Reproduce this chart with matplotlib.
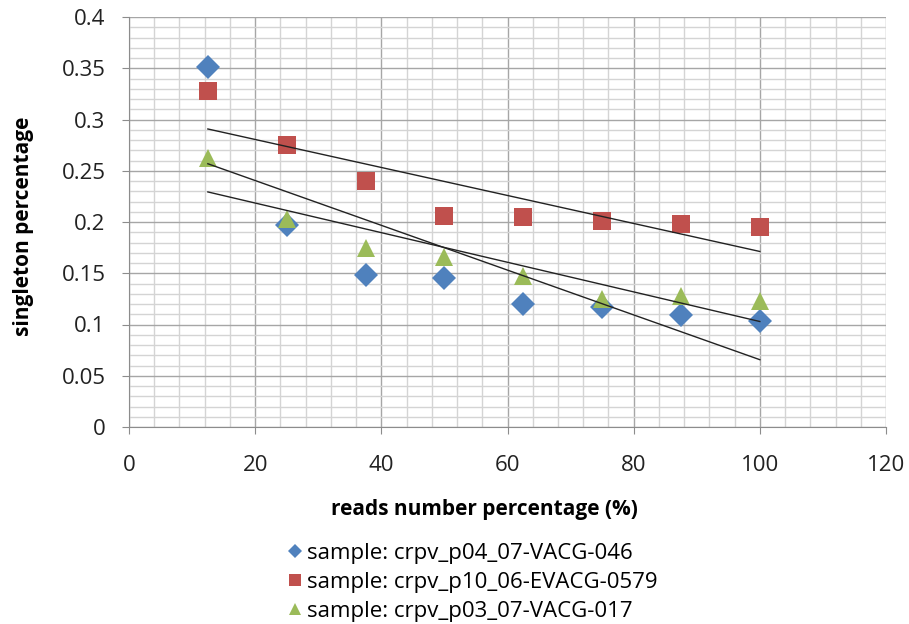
import numpy as np
import matplotlib.pyplot as plt
from matplotlib.ticker import MultipleLocator

plt.rcParams['font.family'] = ['Open Sans', 'DejaVu Sans']

reads_pct = [12.5, 25, 37.5, 50, 62.5, 75, 87.5, 100]
p04_vacg_046 = [0.351, 0.197, 0.148, 0.145, 0.120, 0.117, 0.109, 0.103]
p10_evacg_0579 = [0.328, 0.275, 0.240, 0.206, 0.205, 0.201, 0.198, 0.195]
p03_vacg_017 = [0.262, 0.203, 0.175, 0.166, 0.147, 0.125, 0.128, 0.123]

series = [
    ("sample: crpv_p04_07-VACG-046", p04_vacg_046, "D", "#4F81BD", 12),
    ("sample: crpv_p10_06-EVACG-0579", p10_evacg_0579, "s", "#C0504D", 13),
    ("sample: crpv_p03_07-VACG-017", p03_vacg_017, "^", "#9BBB59", 13),
]

fig = plt.figure(figsize=(9.09, 6.24), dpi=100)
ax = fig.add_axes([129 / 909, 1 - 427 / 624, (886 - 129) / 909, (427 - 17) / 624])

x = np.array(reads_pct)
for label, y, marker, color, ms in series:
    ax.plot(x, y, linestyle="none", marker=marker, color=color, markersize=ms,
            markeredgewidth=0, label=label, zorder=3)

# linear trend lines over the sampled range
for label, y, marker, color, ms in series:
    k, b = np.polyfit(x, y, 1)
    ax.plot([x.min(), x.max()], [k * x.min() + b, k * x.max() + b],
            color="#222222", linewidth=1.0, zorder=4)

ax.set_xlim(0, 120)
ax.set_ylim(0, 0.4)
ax.xaxis.set_major_locator(MultipleLocator(20))
ax.xaxis.set_minor_locator(MultipleLocator(4))
ax.yaxis.set_minor_locator(MultipleLocator(0.01))
yt = np.round(np.arange(0, 0.401, 0.05), 2)
ax.set_yticks(yt)
ax.set_yticklabels([f"{v:g}" for v in yt])

ax.grid(which="minor", color="#d4d4d4", linewidth=1.0)
ax.grid(which="major", color="#a6a6a6", linewidth=1.0)
ax.set_axisbelow(True)

for side in ["top", "right"]:
    ax.spines[side].set_visible(False)
for side in ["left", "bottom"]:
    ax.spines[side].set_color("#8c8c8c")
ax.tick_params(which="major", direction="out", length=5, color="#8c8c8c",
               labelsize=16, labelcolor="#222222", pad=12)
ax.tick_params(axis="x", which="major", pad=15)
ax.tick_params(which="minor", length=0)

fig.text(24 / 909, 1 - 226 / 624, "singleton percentage", fontsize=15,
         fontweight="bold", rotation=90, ha="center", va="center")
fig.text(484 / 909, 1 - 510 / 624, "reads number percentage (%)", fontsize=15,
         fontweight="bold", ha="center", va="center")

fig.legend(loc="upper left", bbox_to_anchor=(276 / 909, 1 - 532 / 624), frameon=False,
           fontsize=16, markerscale=0.62, handlelength=0.7, handletextpad=0.2,
           labelspacing=0.36, borderpad=0)

fig.savefig("out.png", dpi=100)
